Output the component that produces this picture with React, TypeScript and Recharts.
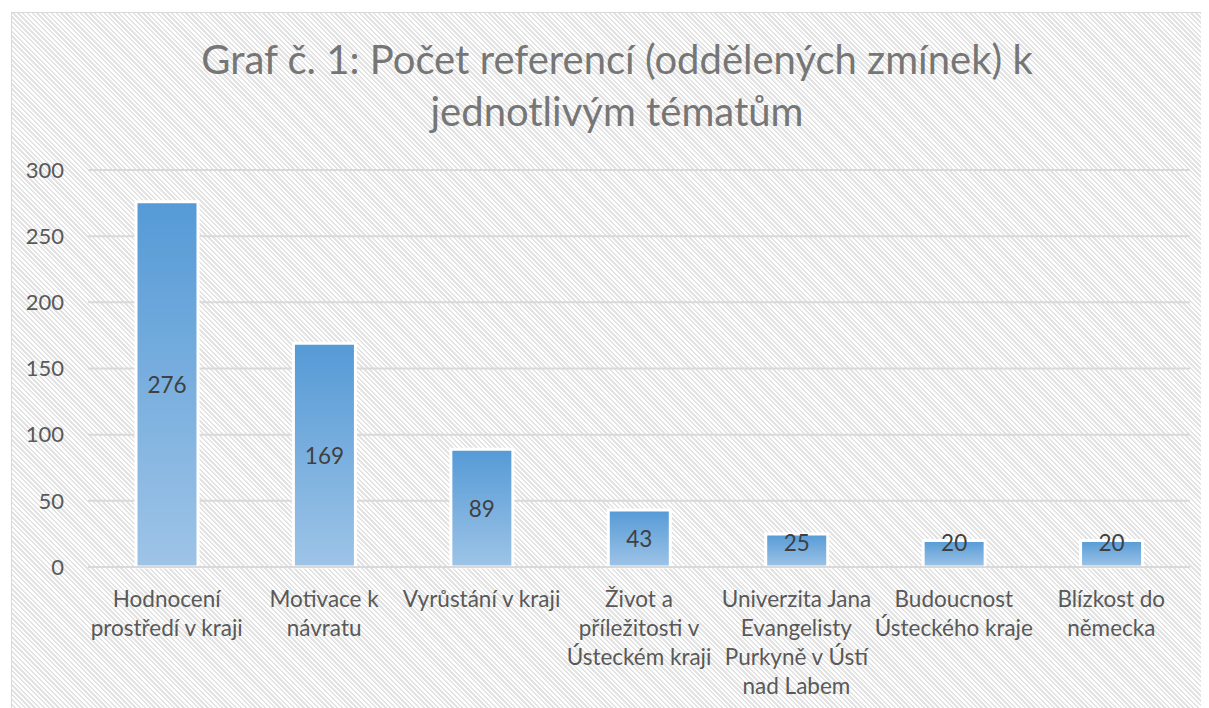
import React from 'react';
import { BarChart, Bar, XAxis, YAxis, CartesianGrid, LabelList } from 'recharts';

const categories = [
  'Hodnocení prostředí v kraji',
  'Motivace k návratu',
  'Vyrůstání v kraji',
  'Život a příležitosti v Ústeckém kraji',
  'Univerzita Jana Evangelisty Purkyně v Ústí nad Labem',
  'Budoucnost Ústeckého kraje',
  'Blízkost do německa',
];

const counts = [276, 169, 89, 43, 25, 20, 20];

const tickLines = [
  ['Hodnocení', 'prostředí v kraji'],
  ['Motivace k', 'návratu'],
  ['Vyrůstání v kraji'],
  ['Život a', 'příležitosti v', 'Ústeckém kraji'],
  ['Univerzita Jana', 'Evangelisty', 'Purkyně v Ústí', 'nad Labem'],
  ['Budoucnost', 'Ústeckého kraje'],
  ['Blízkost do', 'německa'],
];

const yTicks = [0, 50, 100, 150, 200, 250, 300];

const titleLines = ['Graf č. 1: Počet referencí (oddělených zmínek) k', 'jednotlivým tématům'];

const data = categories.map((name, i) => ({ name, count: counts[i] }));

const font = 'Lato, "Noto Sans", sans-serif';

const CategoryTick = (props: any) => {
  const { x, y, payload } = props;
  const lines = tickLines[categories.indexOf(payload.value)] || [payload.value];
  return (
    <g>
      {lines.map((line, i) => (
        <text
          key={i}
          x={x}
          y={y + 31 + i * 29}
          textAnchor="middle"
          dominantBaseline="central"
          fill="#595959"
          fontSize={22.5}
          fontFamily={font}
        >
          {line}
        </text>
      ))}
    </g>
  );
};

const ValueLabel = (props: any) => {
  const { x, y, width, height, value } = props;
  const cy = Math.min(y + height / 2, y + height - 25);
  return (
    <text
      x={x + width / 2}
      y={cy}
      textAnchor="middle"
      dominantBaseline="central"
      fill="#404040"
      fontSize={22.5}
      fontFamily={font}
    >
      {value}
    </text>
  );
};

export default function App() {
  return (
    <div
      style={{
        position: 'relative',
        marginLeft: 3,
        marginTop: 4,
        width: 1198,
        height: 696,
        borderTop: '1px solid #d9d9d9',
        borderLeft: '1px solid #d9d9d9',
        boxSizing: 'border-box',
        background: 'repeating-linear-gradient(45deg, #ffffff 0px, #ffffff 1.7px, #e3e3e3 1.7px, #e3e3e3 3.4px)',
        overflow: 'hidden',
      }}
    >
      {titleLines.map((t, i) => (
        <div
          key={i}
          style={{
            position: 'absolute',
            left: 0,
            width: 1210,
            top: 46 + i * 52 - 25,
            height: 50,
            lineHeight: '50px',
            textAlign: 'center',
            fontFamily: font,
            fontSize: 40,
            color: '#767676',
          }}
        >
          {t}
        </div>
      ))}
      <div style={{ position: 'absolute', left: -1, top: -1 }}>
        <BarChart
          width={1198}
          height={696}
          data={data}
          margin={{ top: 158, right: 19, bottom: 11, left: 0 }}
        >
          <defs>
            <linearGradient id="barFill" x1="0" y1="0" x2="0" y2="1">
              <stop offset="0%" stopColor="#559ad6" />
              <stop offset="100%" stopColor="#9ec4e7" />
            </linearGradient>
          </defs>
          <CartesianGrid vertical={false} stroke="#d9d9d9" strokeWidth={2} />
          <XAxis
            dataKey="name"
            height={130}
            interval={0}
            tickLine={false}
            tickSize={0}
            tickMargin={0}
            axisLine={{ stroke: '#d9d9d9', strokeWidth: 2 }}
            tick={<CategoryTick />}
          />
          <YAxis
            width={77}
            domain={[0, 300]}
            ticks={yTicks}
            axisLine={false}
            tickLine={false}
            tickSize={0}
            tickMargin={24}
            tick={{ fill: '#595959', fontSize: 22, fontFamily: font }}
          />
          <Bar
            dataKey="count"
            fill="url(#barFill)"
            stroke="#ffffff"
            strokeWidth={3}
            barSize={62}
            isAnimationActive={false}
          >
            <LabelList dataKey="count" content={<ValueLabel />} />
          </Bar>
        </BarChart>
      </div>
    </div>
  );
}
